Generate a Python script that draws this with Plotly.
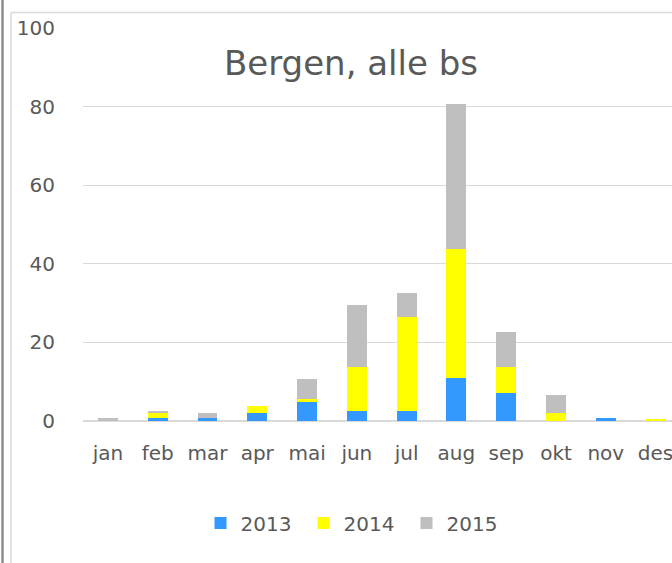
import plotly.graph_objects as go

months = ["jan", "feb", "mar", "apr", "mai", "jun", "jul", "aug", "sep", "okt", "nov", "des"]
y2013 = [0, 0.8, 0.8, 2.0, 5.0, 2.5, 2.5, 11.0, 7.0, 0, 0.7, 0]
y2014 = [0, 1.3, 0, 1.8, 0.5, 11.2, 24.0, 32.7, 6.8, 2.0, 0, 0.5]
y2015 = [0.8, 0.5, 1.3, 0, 5.2, 15.8, 6.0, 37.0, 8.8, 4.6, 0, 0]
yticks = [0, 20, 40, 60, 80, 100]

W, H = 672, 563
L, R, T, B = 83, 0, 28, 142
FONT = "DejaVu Sans"
TXT = "#595959"

def px(x):
    return (x - L) / (W - L - R)

def py(y):
    return (H - B - y) / (H - B - T)

fig = go.Figure()
for name, vals, col in [("2013", y2013, "#3399FF"), ("2014", y2014, "#FFFF00"), ("2015", y2015, "#BFBFBF")]:
    fig.add_trace(go.Bar(x=months, y=vals, name=name, marker=dict(color=col, line=dict(width=0)), width=0.4))

fig.update_layout(
    width=W, height=H,
    margin=dict(l=L, r=R, t=T, b=B),
    barmode="stack",
    plot_bgcolor="white", paper_bgcolor="white",
    font=dict(family=FONT, size=20, color=TXT),
    showlegend=True,
    legend=dict(orientation="h", x=px(355), xanchor="center", y=py(523), yanchor="middle",
                font=dict(size=20, color=TXT), traceorder="normal", entrywidth=58, entrywidthmode="pixels"),
    xaxis=dict(range=[-0.5, 11.33], showgrid=False, showline=False, zeroline=False,
               ticks="", ticklabelstandoff=18, tickfont=dict(size=20, color=TXT)),
    yaxis=dict(range=[0, 100], tickvals=yticks, showgrid=True, gridcolor="#D9D9D9", gridwidth=1,
               zeroline=True, zerolinecolor="#D9D9D9", zerolinewidth=1.5, showline=False,
               ticks="", ticklabelstandoff=27, tickfont=dict(size=20, color=TXT)),
    annotations=[dict(text="Bergen, alle bs", x=px(351), y=py(63), xref="paper", yref="paper",
                      showarrow=False, xanchor="center", yanchor="middle",
                      font=dict(family=FONT, size=34, color=TXT))],
    shapes=[
        dict(type="line", xref="paper", yref="paper", x0=px(2.5), x1=px(2.5), y0=py(0), y1=py(H),
             line=dict(color="#8C8C8C", width=2.5)),
        dict(type="line", xref="paper", yref="paper", x0=px(11), x1=px(11), y0=py(12.5), y1=py(H),
             line=dict(color="#D9D9D9", width=1.5)),
        dict(type="line", xref="paper", yref="paper", x0=px(11), x1=px(W), y0=py(12.5), y1=py(12.5),
             line=dict(color="#D9D9D9", width=1.5)),
    ],
)

fig.write_html("out.html", config={"displayModeBar": False},
               post_script="document.body.style.margin='0';document.body.style.overflow='hidden';")
